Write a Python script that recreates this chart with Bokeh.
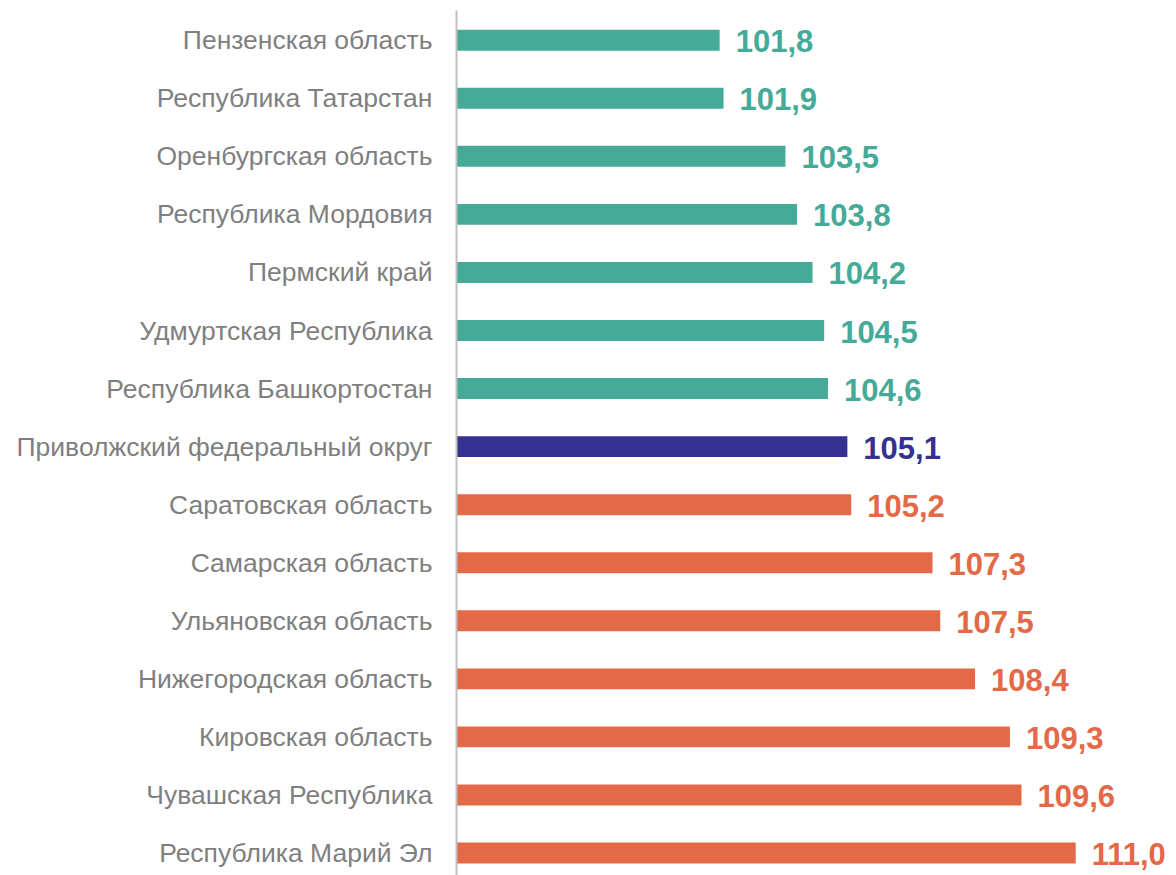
from bokeh.plotting import figure
from bokeh.models import Range1d, FixedTicker, ColumnDataSource, LabelSet
from bokeh.embed import file_html
from bokeh.resources import INLINE
from bokeh.core.properties import value

regions = [
    "Пензенская область",
    "Республика Татарстан",
    "Оренбургская область",
    "Республика Мордовия",
    "Пермский край",
    "Удмуртская Республика",
    "Республика Башкортостан",
    "Приволжский федеральный округ",
    "Саратовская область",
    "Самарская область",
    "Ульяновская область",
    "Нижегородская область",
    "Кировская область",
    "Чувашская Республика",
    "Республика Марий Эл",
]
values = [101.8, 101.9, 103.5, 103.8, 104.2, 104.5, 104.6, 105.1,
          105.2, 107.3, 107.5, 108.4, 109.3, 109.6, 111.0]
groups = ["below"] * 7 + ["district"] + ["above"] * 7
palette = {"below": "#45aa97", "district": "#35318f", "above": "#e46947"}

n = len(regions)
ys = [n - 1 - i for i in range(n)]
labels = [f"{v:.1f}".replace(".", ",") for v in values]
colors = [palette[g] for g in groups]

src = ColumnDataSource(dict(y=ys, v=values, label=labels, color=colors))

FONT = "Liberation Sans"
W, H = 1168, 875
LEFT = 456
TOP = 10
X0 = 95.0
PX_PER_UNIT = 38.7
ROW_PX = 58.06

x_end = X0 + (W - LEFT) / PX_PER_UNIT
frame_h = H - TOP
y_top = (n - 1) + 29.7 / ROW_PX
y_bot = y_top - frame_h / ROW_PX

p = figure(width=W, height=H, output_backend="svg", toolbar_location=None,
           x_range=Range1d(X0, x_end), y_range=Range1d(y_bot, y_top),
           x_axis_location=None, min_border_left=LEFT, min_border_right=0,
           min_border_top=TOP, min_border_bottom=0)
p.outline_line_color = None
p.grid.visible = False
p.background_fill_color = "white"
p.border_fill_color = "white"

p.hbar(y="y", left=X0, right="v", height=0.36, fill_color="color",
       line_color=None, source=src)

value_labels = LabelSet(x="v", y="y", text="label", x_offset=16, y_offset=-1,
                        text_baseline="middle", text_align="left",
                        text_font=value(FONT), text_font_style="bold",
                        text_font_size="31px", text_color="color", source=src)
p.add_layout(value_labels)

ax = p.yaxis[0]
ax.ticker = FixedTicker(ticks=ys)
ax.major_label_overrides = {y: r for y, r in zip(ys, regions)}
ax.axis_line_color = "#bfbfbf"
ax.axis_line_width = 2
ax.major_tick_line_color = None
ax.minor_tick_line_color = None
ax.major_tick_out = 0
ax.major_tick_in = 0
ax.major_label_standoff = 24
ax.major_label_text_font = FONT
ax.major_label_text_font_size = "26.5px"
ax.major_label_text_color = "#7f7f7f"

open("out.html", "w").write(file_html(p, INLINE))
